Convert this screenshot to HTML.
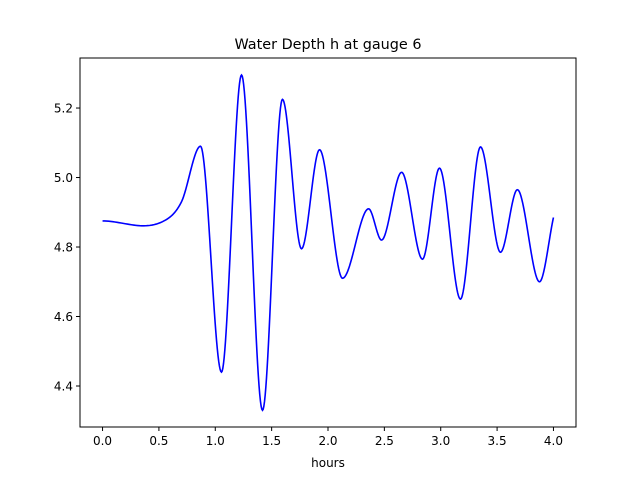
<!DOCTYPE html>
<html><head><meta charset="utf-8">
<style>
body{margin:0;background:#fff;font-family:"Liberation Sans","DejaVu Sans",sans-serif;}
svg text{font-family:"DejaVu Sans","Liberation Sans",sans-serif;}
</style></head>
<body>
<svg id="chart" width="640" height="480" viewBox="0 0 640 480" xmlns="http://www.w3.org/2000/svg">
<rect width="640" height="480" fill="#fff"/>
<text x="328" y="49" font-size="14.4" text-anchor="middle">Water Depth h at gauge 6</text>
<g id="xticks"></g><g id="yticks"></g>
<path id="line" fill="none" stroke="#0000ff" stroke-width="1.6"/>
<rect x="80" y="58" width="496" height="369" fill="none" stroke="#000" stroke-width="1"/>
<text x="328" y="467" font-size="12" text-anchor="middle">hours</text>
</svg>
<script>
const times=[0,0.55,0.7,0.869,1.055,1.233,1.419,1.596,1.765,1.925,2.129,2.36,2.475,2.653,2.838,2.989,3.175,3.353,3.53,3.68,3.876,4.0];
const depths=[4.875,4.876,4.93,5.09,4.44,5.295,4.33,5.225,4.795,5.08,4.71,4.91,4.82,5.015,4.765,5.027,4.65,5.088,4.785,4.965,4.70,4.885];
const xTicks=[0,0.5,1,1.5,2,2.5,3,3.5,4];
const yTicks=[4.4,4.6,4.8,5.0,5.2];
const xMin=-0.2,xMax=4.2,yMin=4.282,yMax=5.344;
const L=80,R=576,T=58,B=427;
const X=v=>L+(v-xMin)/(xMax-xMin)*(R-L);
const Y=v=>B-(v-yMin)/(yMax-yMin)*(B-T);
const NS="http://www.w3.org/2000/svg";
// monotone cubic slopes
const n=times.length,m=[],d=[];
for(let i=0;i<n-1;i++)d.push((depths[i+1]-depths[i])/(times[i+1]-times[i]));
for(let i=0;i<n;i++){
 if(i==0)m.push(d[0]);else if(i==n-1)m.push(d[n-2]);
 else m.push(d[i-1]*d[i]<=0?0:(d[i-1]+d[i])/2);
}
let p="";
for(let i=0;i<n-1;i++){
 const h=times[i+1]-times[i];
 for(let k=0;k<=30;k++){
  if(i>0&&k==0)continue;
  const s=k/30,s2=s*s,s3=s2*s;
  const v=(2*s3-3*s2+1)*depths[i]+(s3-2*s2+s)*h*m[i]+(-2*s3+3*s2)*depths[i+1]+(s3-s2)*h*m[i+1];
  const t=times[i]+s*h;
  p+=(p?"L":"M")+X(t).toFixed(2)+","+Y(v).toFixed(2);
 }
}
document.getElementById("line").setAttribute("d",p);
const xg=document.getElementById("xticks");
xTicks.forEach(v=>{
 const l=document.createElementNS(NS,"line");
 
 
 l.setAttribute("x1",X(v));l.setAttribute("x2",X(v));l.setAttribute("y1",B);l.setAttribute("y2",B+4);l.setAttribute("stroke","#000");
 xg.appendChild(l);
 const t=document.createElementNS(NS,"text");
 
 
 t.setAttribute("x",X(v));t.setAttribute("y",B+18);t.setAttribute("font-size","12");t.setAttribute("text-anchor","middle");
 t.textContent=v.toFixed(1);xg.appendChild(t);
});
const yg=document.getElementById("yticks");
yTicks.forEach(v=>{
 const l=document.createElementNS(NS,"line");
 
 
 l.setAttribute("x1",L-4);l.setAttribute("x2",L);l.setAttribute("y1",Y(v));l.setAttribute("y2",Y(v));l.setAttribute("stroke","#000");
 yg.appendChild(l);
 const t=document.createElementNS(NS,"text");
 
 
 t.setAttribute("x",L-7);t.setAttribute("y",Y(v)+4.5);t.setAttribute("font-size","12");t.setAttribute("text-anchor","end");
 t.textContent=v.toFixed(1);yg.appendChild(t);
});
</script>
</body></html>
